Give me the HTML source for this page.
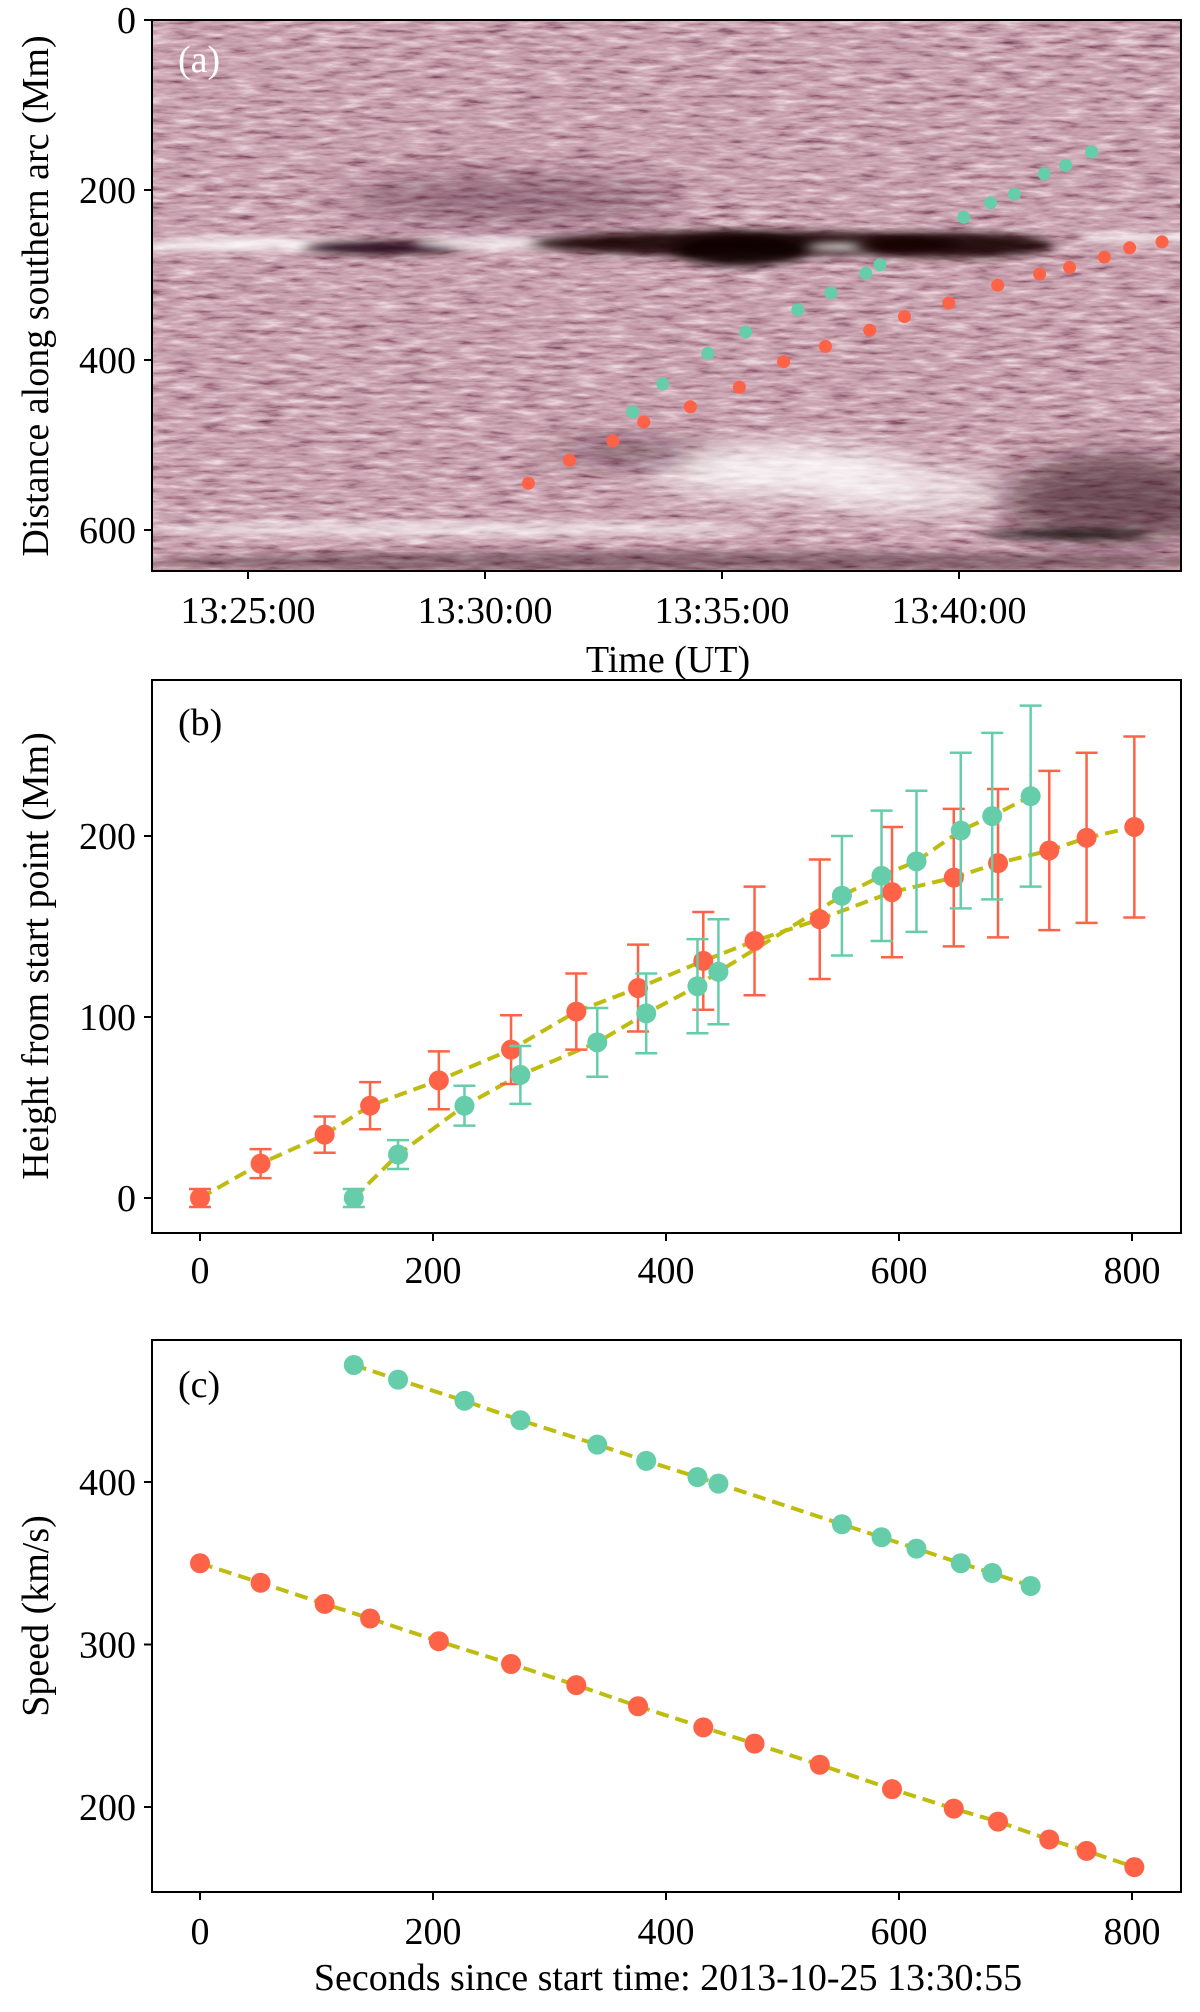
<!DOCTYPE html>
<html><head><meta charset="utf-8"><style>
body{margin:0;background:#fff}
svg text{font-family:"Liberation Serif",serif;fill:#000}
</style></head><body>
<svg id="fig" width="1200" height="2007" viewBox="0 0 1200 2007" xmlns="http://www.w3.org/2000/svg">
<defs>
<filter id="noise" x="0" y="0" width="100%" height="100%">
<feTurbulence type="fractalNoise" baseFrequency="0.035 0.2" numOctaves="4" seed="7" result="t"/>
<feColorMatrix type="matrix" values="1 0 0 0 0  1 0 0 0 0  1 0 0 0 0  0 0 0 0 1"/>
<feComponentTransfer>
<feFuncR type="table" tableValues="0.05 0.3 0.55 0.7 0.9 1"/>
<feFuncG type="table" tableValues="0 0.12 0.33 0.48 0.75 1"/>
<feFuncB type="table" tableValues="0.02 0.18 0.4 0.55 0.8 1"/>
</feComponentTransfer>
</filter>
<filter id="blur" x="-20%" y="-100%" width="140%" height="300%"><feGaussianBlur stdDeviation="7 4"/></filter>
<filter id="blur2" x="-30%" y="-60%" width="160%" height="220%"><feGaussianBlur stdDeviation="22 14"/></filter>
<clipPath id="clipA"><rect x="152" y="20" width="1029" height="551"/></clipPath>
</defs>
<g id="panelA" clip-path="url(#clipA)">
<rect x="152" y="20" width="1029" height="551" fill="#a57585"/>
<rect x="152" y="20" width="1029" height="551" filter="url(#noise)" opacity="0.85"/>
<g id="features"></g>
</g>
<rect x="152" y="20" width="1029" height="551" fill="none" stroke="#000" stroke-width="2"/>
<g id="axA"></g>
<text x="178" y="72" font-size="38" fill="#fff" style="fill:#fff">(a)</text>
<text x="668" y="672" font-size="38" text-anchor="middle">Time (UT)</text>
<text transform="translate(48,296) rotate(-90)" font-size="38" text-anchor="middle">Distance along southern arc (Mm)</text>

<rect x="152" y="680" width="1029" height="553" fill="none" stroke="#000" stroke-width="2"/>
<g id="plotB"></g>
<text x="178" y="735" font-size="38">(b)</text>
<text transform="translate(48,956) rotate(-90)" font-size="38" text-anchor="middle">Height from start point (Mm)</text>

<rect x="152" y="1340" width="1029" height="552" fill="none" stroke="#000" stroke-width="2"/>
<g id="plotC"></g>
<text x="178" y="1397" font-size="38">(c)</text>
<text transform="translate(48,1616) rotate(-90)" font-size="38" text-anchor="middle">Speed (km/s)</text>
<text x="668" y="1990" font-size="38" text-anchor="middle">Seconds since start time: 2013-10-25 13:30:55</text>
</svg>
<script>
// data
const redTimes=[0,52,107,146,205,267,323,376,432,476,532,594,647,685,729,761,802];
const redHeight=[0,19,35,51,65,82,103,116,131,142,154,169,177,185,192,199,205];
const redErr=[5,8,10,13,16,19,21,24,27,30,33,36,38,41,44,47,50];
const redSpeed=[350,338,325,316,302,288,275,262,249,239,226,211,199,191,180,173,163];
const redDist=[545,518,495,473,455,432,402,384,365,349,333,312,299,291,279,268,261];
const tealTimes=[132,170,227,275,341,383,427,445,551,585,615,653,680,713];
const tealHeight=[0,24,51,68,86,102,117,125,167,178,186,203,211,222];
const tealErr=[5,8,11,16,19,22,26,29,33,36,39,43,46,50];
const tealSpeed=[472,463,450,438,423,413,403,399,374,366,359,350,344,336];
const tealDist=[461,428,392,367,341,321,298,288,232,215,205,181,171,155];
const timeTicks=["13:25:00","13:30:00","13:35:00","13:40:00"];
const timeTickMin=[0,5,10,15];
const distTicks=[0,200,400,600];
const secTicks=[0,200,400,600,800];
const heightTicks=[0,100,200];
const speedTicks=[200,300,400];

const NS="http://www.w3.org/2000/svg";
const RED="#ff6347", TEAL="#66cdaa", FIT="#bfbc10";
function mk(tag,attrs,parent){const e=document.createElementNS(NS,tag);for(const k in attrs)e.setAttribute(k,attrs[k]);parent.appendChild(e);return e;}
const START_MIN=5+55/60;
const xA_min=m=>248+m*47.4;
const xA_sec=s=>xA_min(START_MIN+s/60);
const yA=v=>20+v*(510/600);
const xB=v=>200+v*(932/800);
const yB=v=>1198-v*1.81;
const yC=v=>1807-(v-200)*1.625;

const feat=document.getElementById('features');
function blob(m0,m1,d0,d1,col,op,f){const e=mk('ellipse',{cx:(xA_min(m0)+xA_min(m1))/2,cy:(yA(d0)+yA(d1))/2,rx:(xA_min(m1)-xA_min(m0))/2,ry:(yA(d1)-yA(d0))/2,fill:col,opacity:op,filter:'url(#'+f+')'},feat);

}
blob(-2.4,2.5,256,272,'#fff',0.85,'blur');
blob(1.2,4.5,260,276,'#1a0008',0.9,'blur');
blob(3.5,7.0,255,270,'#fff',0.8,'blur');
blob(6.0,15,248,278,'#150006',0.9,'blur');
blob(9,11.8,252,290,'#0a0003',0.9,'blur');
blob(11.8,13.3,262,272,'#fff',0.8,'blur');
blob(12.8,17,250,280,'#150006',0.9,'blur');
blob(17.5,20.5,250,262,'#fff',0.75,'blur');
blob(2,9,180,240,'#3a1020',0.35,'blur2');
blob(8.5,14,500,560,'#fff',0.85,'blur2');
blob(12,16,530,580,'#fff',0.7,'blur2');
blob(6.5,9.5,495,520,'#2a0a15',0.6,'blur2');
blob(16,20.5,510,620,'#2a0812',0.55,'blur2');
blob(-2.4,11,590,608,'#fff',0.6,'blur');
blob(15.5,19,600,610,'#000',0.8,'blur');
blob(-2.4,20.5,625,650,'#2a0812',0.4,'blur');

const pa=document.getElementById('panelA');
redTimes.forEach((t,i)=>{const c=mk('circle',{cx:xA_sec(t),cy:yA(redDist[i]),r:6.5,fill:RED},pa);

});
tealTimes.forEach((t,i)=>{const c=mk('circle',{cx:xA_sec(t),cy:yA(tealDist[i]),r:6.5,fill:TEAL},pa);

});

const axA=document.getElementById('axA');
timeTicks.forEach((lab,i)=>{const x=xA_min(timeTickMin[i]);
const l=mk('line',{x1:x,y1:571,x2:x,y2:579,stroke:'#000','stroke-width':2},axA);


const tx=mk('text',{x:x,y:623,'font-size':38,'text-anchor':'middle'},axA);tx.textContent=lab;

});
distTicks.forEach(v=>{const y=yA(v);
const l=mk('line',{x1:144,y1:y,x2:152,y2:y,stroke:'#000','stroke-width':2},axA);


const tx=mk('text',{x:136,y:y+13,'font-size':38,'text-anchor':'end'},axA);tx.textContent=v;

});

function xAxis(g,yBot,lblY,name){secTicks.forEach(v=>{const x=xB(v);
const l=mk('line',{x1:x,y1:yBot,x2:x,y2:yBot+8,stroke:'#000','stroke-width':2},g);


const tx=mk('text',{x:x,y:lblY,'font-size':38,'text-anchor':'middle'},g);tx.textContent=v;

});}
function yAxis(g,ticks,yf,name){ticks.forEach(v=>{const y=yf(v);
const l=mk('line',{x1:144,y1:y,x2:152,y2:y,stroke:'#000','stroke-width':2},g);


const tx=mk('text',{x:136,y:y+13,'font-size':38,'text-anchor':'end'},g);tx.textContent=v;

});}
function fitLine(g,xs,ys,yf,name){const pts=xs.map((t,i)=>xB(t)+','+yf(ys[i])).join(' ');
const p=mk('polyline',{points:pts,fill:'none',stroke:FIT,'stroke-width':4,'stroke-dasharray':'13 7'},g);

}

const gB=document.getElementById('plotB');
xAxis(gB,1233,1283,'panel-b');yAxis(gB,heightTicks,yB,'panel-b');
fitLine(gB,redTimes,redHeight,yB,'red-fit-line-b');
fitLine(gB,tealTimes,tealHeight,yB,'teal-fit-line-b');
function errSeries(ts,hs,es,col,name){ts.forEach((t,i)=>{const x=xB(t),y1=yB(hs[i]+es[i]),y0=yB(hs[i]-es[i]);
const g=mk('g',{},gB);


mk('line',{x1:x,y1:y1,x2:x,y2:y0,stroke:col,'stroke-width':2.5},g);
mk('line',{x1:x-11,y1:y1,x2:x+11,y2:y1,stroke:col,'stroke-width':2.5},g);
mk('line',{x1:x-11,y1:y0,x2:x+11,y2:y0,stroke:col,'stroke-width':2.5},g);
const c=mk('circle',{cx:x,cy:yB(hs[i]),r:10,fill:col},gB);

});}
errSeries(redTimes,redHeight,redErr,RED,'red');
errSeries(tealTimes,tealHeight,tealErr,TEAL,'teal');

const gC=document.getElementById('plotC');
xAxis(gC,1892,1944,'panel-c');yAxis(gC,speedTicks,yC,'panel-c');
fitLine(gC,redTimes,redSpeed,yC,'red-fit-line-c');
fitLine(gC,tealTimes,tealSpeed,yC,'teal-fit-line-c');
redTimes.forEach((t,i)=>{const c=mk('circle',{cx:xB(t),cy:yC(redSpeed[i]),r:10,fill:RED},gC);

});
tealTimes.forEach((t,i)=>{const c=mk('circle',{cx:xB(t),cy:yC(tealSpeed[i]),r:10,fill:TEAL},gC);

});
</script>
</body></html>
